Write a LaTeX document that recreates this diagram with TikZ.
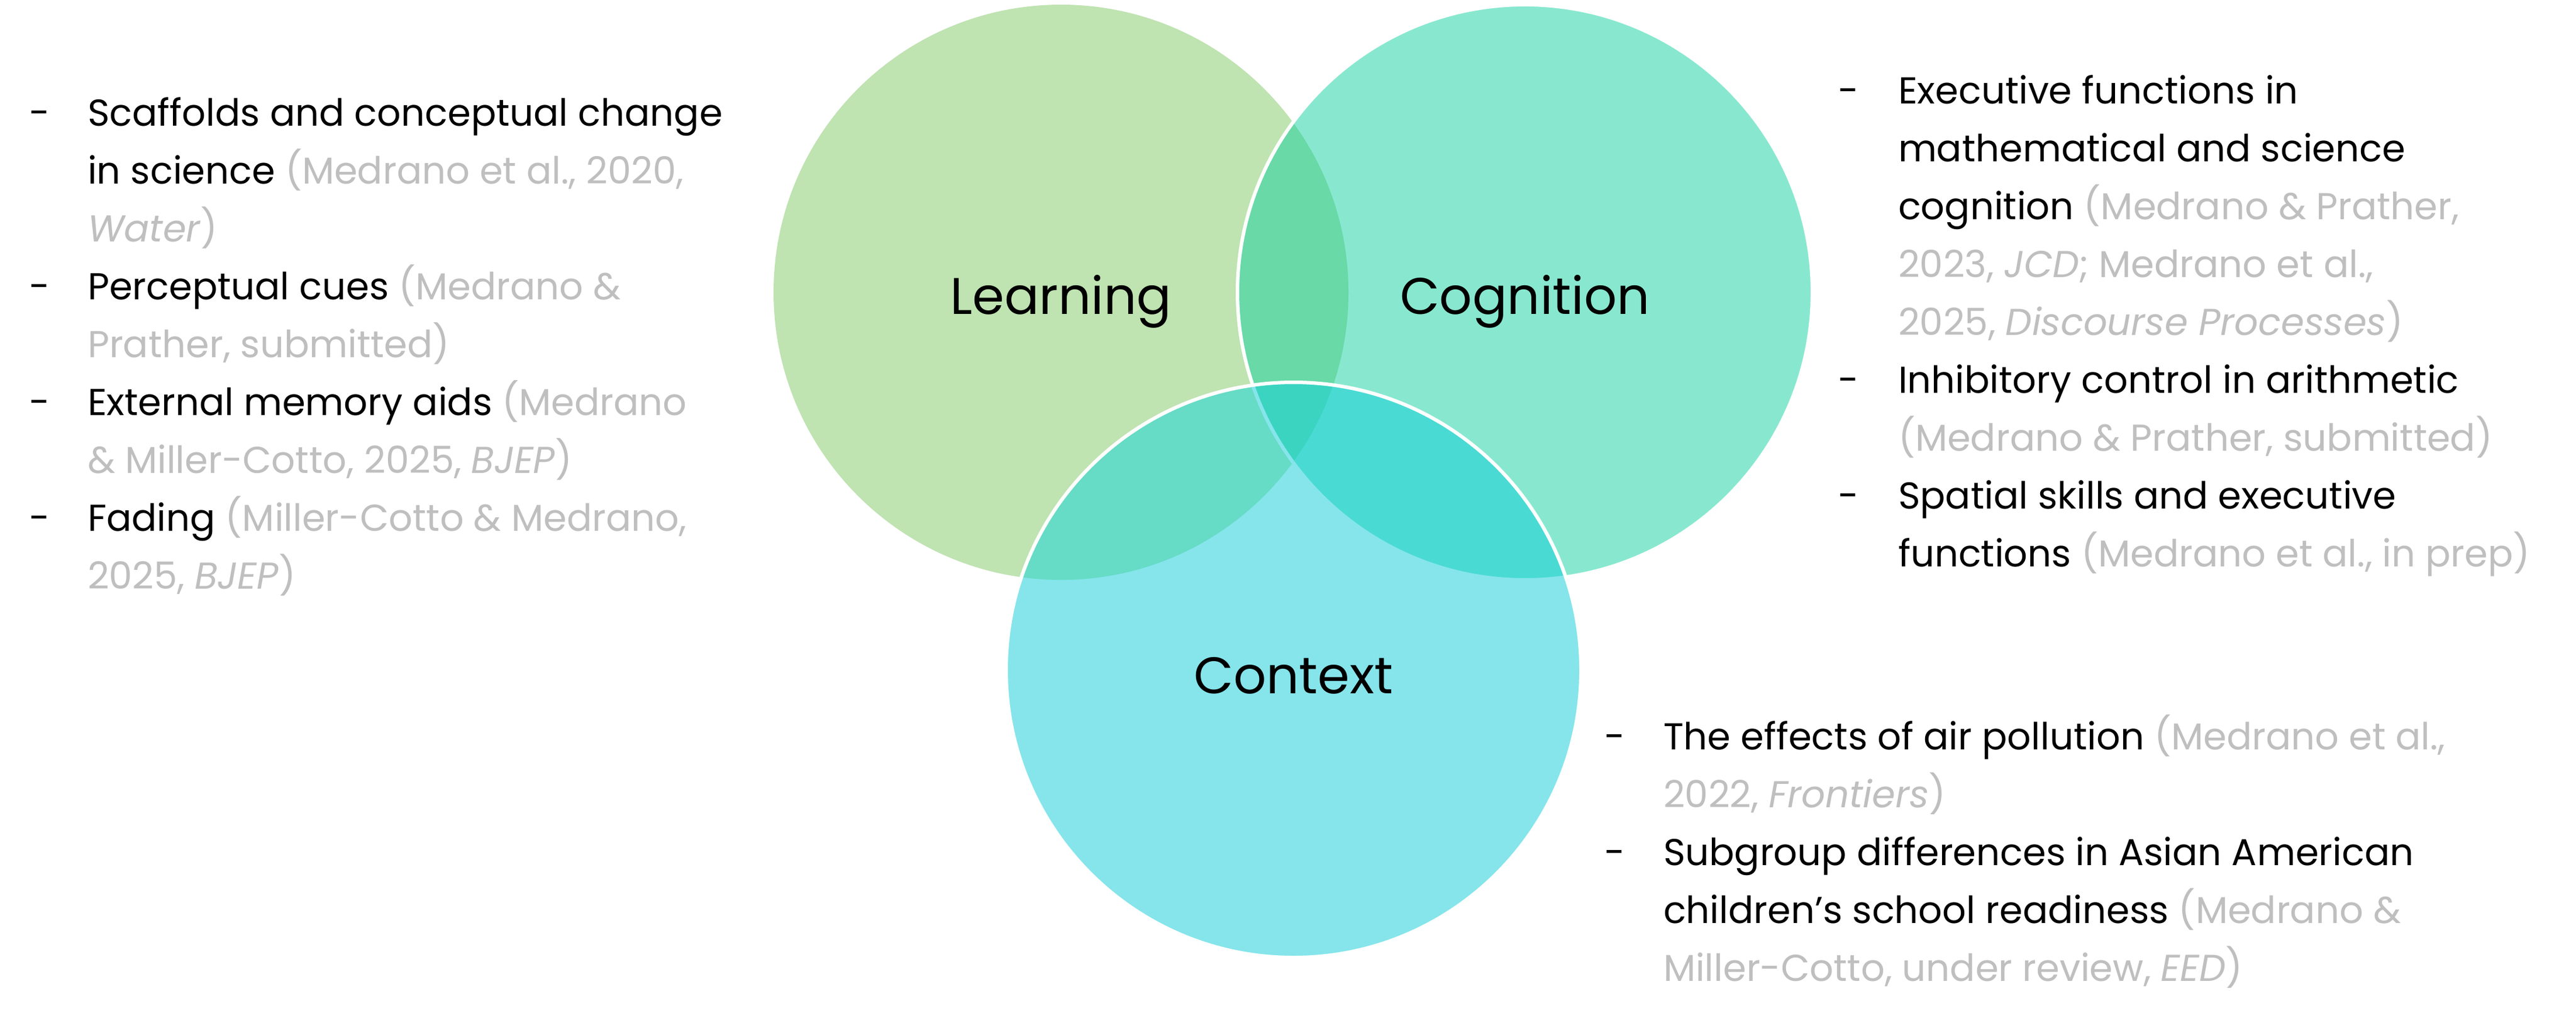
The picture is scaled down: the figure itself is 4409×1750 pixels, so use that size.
\documentclass[tikz,border=0pt]{standalone}
\usepackage{fontspec}
\setmainfont{Poppins}
\definecolor{learnc}{HTML}{BFE3B1}
\definecolor{cogc}{HTML}{88E8CF}
\definecolor{ctxc}{HTML}{85E5EB}
\definecolor{lgc}{HTML}{68D9A7}
\definecolor{lxc}{HTML}{66DBC5}
\definecolor{gxc}{HTML}{4ADAD4}
\definecolor{allc}{HTML}{3BD4C1}
\definecolor{citegray}{HTML}{BFBFBF}
\newcommand{\citg}[1]{\textcolor{citegray}{#1}}
\begin{document}
\begin{tikzpicture}[x=1pt,y=-1pt,
  bodytext/.style={anchor=base west, inner sep=0pt, outer sep=0pt, font=\fontsize{64}{80}\selectfont, text=black},
  dashmark/.style={anchor=base west, inner sep=0pt, outer sep=0pt, font=\fontsize{64}{80}\selectfont, text=black},
  circlabel/.style={anchor=base, inner sep=0pt, outer sep=0pt, font=\fontsize{88}{110}\selectfont, text=black},
  whiteline/.style={draw=white, line width=6pt}]
\fill[white] (0,0) rectangle (4409,1750);
\useasboundingbox (0,0) rectangle (4409,1750);
\coordinate (L) at (1816,500);
\coordinate (G) at (2610,500);
\coordinate (C) at (2214,1146);
\def\R{492}
% Learning and Cognition
\fill[learnc] (L) circle[radius=\R];
\fill[cogc] (G) circle[radius=\R];
\begin{scope}
  \clip (L) circle[radius=\R];
  \fill[lgc] (G) circle[radius=\R];
\end{scope}
\draw[whiteline] (G) circle[radius=\R];
% Context
\fill[ctxc] (C) circle[radius=\R];
\begin{scope}
  \clip (C) circle[radius=\R];
  \fill[lxc] (L) circle[radius=\R];
  \fill[gxc] (G) circle[radius=\R];
  \draw[ctxc, line width=6pt] (G) circle[radius=\R];
  \clip (L) circle[radius=\R];
  \fill[allc] (G) circle[radius=\R];
  \draw[ctxc, line width=6pt] (G) circle[radius=\R];
\end{scope}
\draw[whiteline] (C) circle[radius=\R];
% circle labels
\node[circlabel] (lblL) at (1816,537) {Learning};
\node[circlabel] (lblG) at (2610,537) {Cognition};
\node[circlabel] (lblC) at (2214,1186) {Context};
% left block
\node[dashmark] (ld1) at (50,215) {-};
\node[bodytext] (l1) at (150,215) {Scaffolds and conceptual change};
\node[bodytext] (l2) at (150,314) {in science \citg{(Medrano et al., 2020,}};
\node[bodytext] (l3) at (150,413) {\citg{\textit{Water})}};
\node[dashmark] (ld2) at (50,512) {-};
\node[bodytext] (l4) at (150,512) {Perceptual cues \citg{(Medrano \&}};
\node[bodytext] (l5) at (150,611) {\citg{Prather, submitted)}};
\node[dashmark] (ld3) at (50,710) {-};
\node[bodytext] (l6) at (150,710) {External memory aids \citg{(Medrano}};
\node[bodytext] (l7) at (150,809) {\citg{\& Miller-Cotto, 2025, \textit{BJEP})}};
\node[dashmark] (ld4) at (50,908) {-};
\node[bodytext] (l8) at (150,908) {Fading \citg{(Miller-Cotto \& Medrano,}};
\node[bodytext] (l9) at (150,1007) {\citg{2025, \textit{BJEP})}};
% right top block
\node[dashmark] (rd1) at (3146,177) {-};
\node[bodytext] (r1) at (3249,177) {Executive functions in};
\node[bodytext] (r2) at (3249,276) {mathematical and science};
\node[bodytext] (r3) at (3249,375) {cognition \citg{(Medrano \& Prather,}};
\node[bodytext] (r4) at (3249,474) {\citg{2023, \textit{JCD}; Medrano et al.,}};
\node[bodytext] (r5) at (3249,573) {\citg{2025, \textit{Discourse Processes})}};
\node[dashmark] (rd2) at (3146,672) {-};
\node[bodytext] (r6) at (3249,672) {Inhibitory control in arithmetic};
\node[bodytext] (r7) at (3249,771) {\citg{(Medrano \& Prather, submitted)}};
\node[dashmark] (rd3) at (3146,870) {-};
\node[bodytext] (r8) at (3249,870) {Spatial skills and executive};
\node[bodytext] (r9) at (3249,969) {functions \citg{(Medrano et al., in prep)}};
% bottom right block
\node[dashmark] (bd1) at (2746,1282) {-};
\node[bodytext] (b1) at (2847,1282) {The effects of air pollution \citg{(Medrano et al.,}};
\node[bodytext] (b2) at (2847,1381) {\citg{2022, \textit{Frontiers})}};
\node[dashmark] (bd2) at (2746,1480) {-};
\node[bodytext] (b3) at (2847,1480) {Subgroup differences in Asian American};
\node[bodytext] (b4) at (2847,1579) {children’s school readiness \citg{(Medrano \&}};
\node[bodytext] (b5) at (2847,1678) {\citg{Miller-Cotto, under review, \textit{EED})}};
\end{tikzpicture}
\end{document}
